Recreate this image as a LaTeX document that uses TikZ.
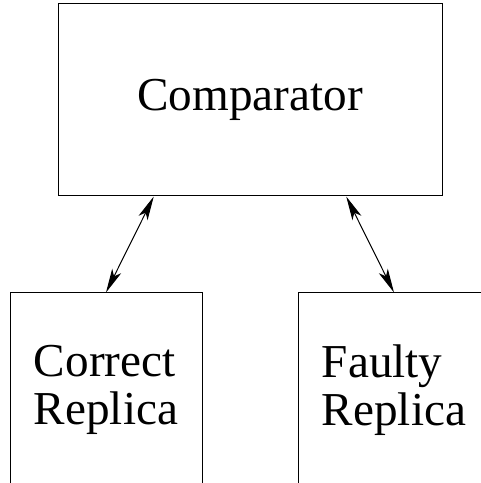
\documentclass[tikz,border=0pt]{standalone}
\usepackage{fontspec}
\setmainfont{Liberation Serif}
\usetikzlibrary{arrows.meta,calc}

\begin{document}
\begin{tikzpicture}[x=1pt, y=1pt, line width=0.5pt,
    box/.style={draw, rectangle, inner sep=0pt, font=\fontsize{23.6}{24}\selectfont},
    link/.style={{Stealth[length=12pt,width=5pt,inset=3pt]}-{Stealth[length=12pt,width=5pt,inset=3pt]}}]
    \useasboundingbox (0,0) rectangle (240.5,241.5);
    \clip (0,0) rectangle (240.5,241.5);
    \node[box, minimum width=192pt, minimum height=96pt] (comp) at (125,191.5) {Comparator};
    \node[box, align=left, minimum width=96pt, minimum height=97pt] (correct) at (53,46.5) {Correct\\Replica};
    \node[box, align=left, minimum width=96pt, minimum height=97pt] (faulty) at (197,46.5) {Faulty\\Replica};
    \draw[link] ($(comp.south west)!0.25!(comp.south east)$) -- (correct.north);
    \draw[link] ($(comp.south west)!0.75!(comp.south east)$) -- (faulty.north);
\end{tikzpicture}
\end{document}
